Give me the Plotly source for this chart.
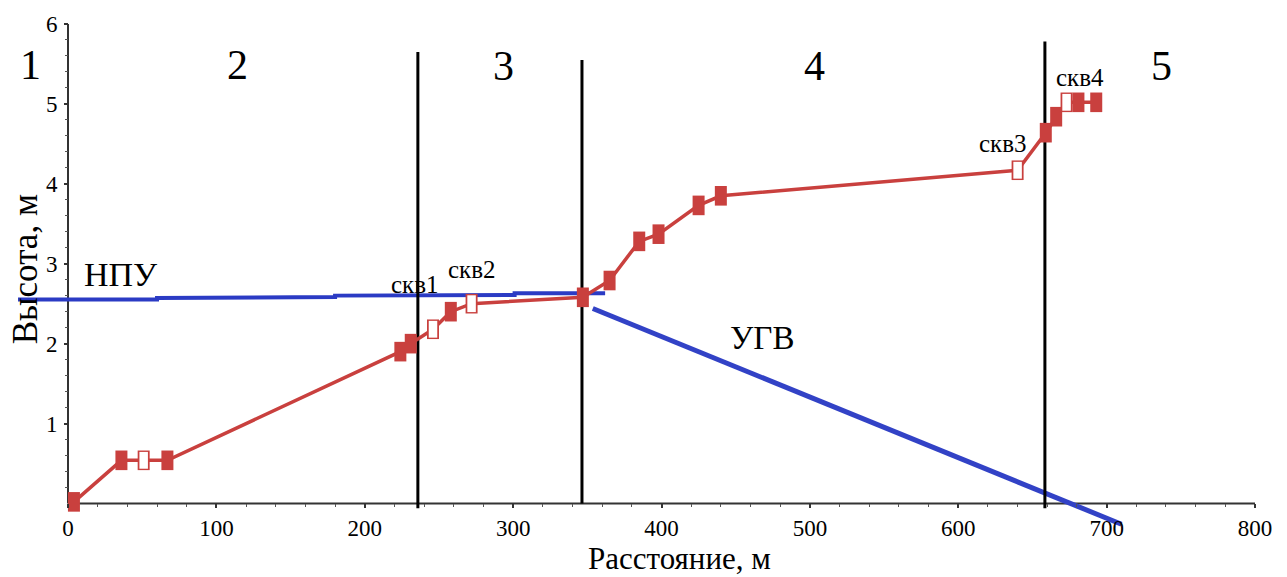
import plotly.graph_objects as go

# ---------------- data ----------------
# ground profile (distance m, height m); open = observation well
profile_x = [4, 36, 51, 67, 224, 231, 246, 258, 272, 347, 365, 385, 398, 425, 440, 640, 659, 666, 673, 681, 693]
profile_y = [0.02, 0.54, 0.54, 0.54, 1.90, 2.00, 2.18, 2.40, 2.50, 2.58, 2.79, 3.28, 3.37, 3.73, 3.85, 4.17, 4.64, 4.84, 5.02, 5.02, 5.02]
profile_open = [0, 0, 1, 0, 0, 0, 1, 0, 1, 0, 0, 0, 0, 0, 0, 1, 0, 0, 1, 0, 0]

# normal water level (НПУ)
npu_x = [-33.7, 60, 60, 180, 180, 301, 301, 362]
npu_y = [2.552, 2.552, 2.571, 2.583, 2.601, 2.608, 2.632, 2.632]

# groundwater level (УГВ)
ugv_x = [353.7, 710]
ugv_y = [2.44, -0.26]

# section boundaries
bound_x = [235.8, 346.4, 658.4]
bound_top = [5.65, 5.55, 5.78]
bound_bot = [-0.06, 0.0, -0.06]

# section numbers
sec_labels = ["1", "2", "3", "4", "5"]
sec_x = [-25.6, 113.9, 293.2, 503.4, 737.2]
sec_y = [5.49, 5.49, 5.48, 5.48, 5.48]

# well labels
well_labels = ["скв1", "скв2", "скв3", "скв4"]
well_x = [233.8, 272.5, 630.0, 682.0]
well_y = [2.74, 2.93, 4.50, 5.33]

x_ticks = [0, 100, 200, 300, 400, 500, 600, 700, 800]
y_ticks = [1, 2, 3, 4, 5, 6]

# ---------------- figure ----------------
FONT = "Liberation Serif, Times New Roman, serif"
RED = "#c9403e"
BLUE = "#2b3bc4"

fig = go.Figure()

fig.add_trace(go.Scatter(x=npu_x, y=npu_y, mode="lines",
                         line=dict(color=BLUE, width=4), hoverinfo="skip"))
fig.add_trace(go.Scatter(x=ugv_x, y=ugv_y, mode="lines",
                         line=dict(color="#3242c6", width=5), hoverinfo="skip"))

for bx, bt, bb in zip(bound_x, bound_top, bound_bot):
    fig.add_trace(go.Scatter(x=[bx, bx], y=[bb, bt], mode="lines",
                             line=dict(color="black", width=3), hoverinfo="skip"))

fig.add_trace(go.Scatter(x=profile_x, y=profile_y, mode="lines",
                         line=dict(color=RED, width=3.5), hoverinfo="skip"))
# filled rectangles (all points)
fig.add_trace(go.Scatter(x=profile_x, y=profile_y, mode="markers",
                         marker=dict(symbol="line-ns-open", size=14, color=RED,
                                     line=dict(width=12, color=RED)),
                         hoverinfo="skip"))
# white interior for wells
ox = [x for x, o in zip(profile_x, profile_open) if o]
oy = [y for y, o in zip(profile_y, profile_open) if o]
fig.add_trace(go.Scatter(x=ox, y=oy, mode="markers",
                         marker=dict(symbol="line-ns-open", size=12, color="white",
                                     line=dict(width=8.5, color="white")),
                         hoverinfo="skip"))

# axis lines
fig.add_shape(type="line", xref="x", yref="y", x0=0, x1=800, y0=0, y1=0,
              line=dict(color="#333", width=2), layer="below")
fig.add_shape(type="line", xref="x", yref="y", x0=0, x1=0, y0=0, y1=6,
              line=dict(color="#333", width=2), layer="below")

for t, x, y in zip(sec_labels, sec_x, sec_y):
    fig.add_annotation(x=x, y=y, text=t, showarrow=False,
                       font=dict(family=FONT, size=42, color="black"))
for t, x, y in zip(well_labels, well_x, well_y):
    fig.add_annotation(x=x, y=y, text=t, showarrow=False,
                       font=dict(family=FONT, size=25, color="black"))

fig.add_annotation(x=35.7, y=2.87, text="НПУ", showarrow=False,
                   font=dict(family=FONT, size=34, color="black"))
fig.add_annotation(x=468, y=2.07, text="УГВ", showarrow=False,
                   font=dict(family=FONT, size=33, color="black"))
fig.add_annotation(x=-29, y=2.93, text="Высота, м", showarrow=False, textangle=-90,
                   font=dict(family=FONT, size=35, color="black"))
fig.add_annotation(x=412, xref="x", y=-0.0573, yref="paper", yanchor="middle",
                   text="Расстояние, м", showarrow=False,
                   font=dict(family=FONT, size=31, color="black"))

minor_x = [v for v in range(20, 800, 20) if v % 100]
minor_y = [round(v * 0.2, 1) for v in range(1, 30) if v % 5]

fig.update_layout(
    width=1287, height=577,
    margin=dict(l=18, r=32, t=15, b=47),
    paper_bgcolor="white", plot_bgcolor="white",
    showlegend=False,
    xaxis=dict(range=[-33.7, 800], anchor="free", position=0.332 / 6.332,
               showgrid=False, zeroline=False, showline=False,
               tickmode="array", tickvals=x_ticks, ticks="outside", ticklen=4,
               tickwidth=1.5, tickcolor="#333", ticklabelstandoff=0,
               tickfont=dict(family=FONT, size=23, color="black"),
               minor=dict(tickmode="array", tickvals=minor_x, ticks="outside",
                          ticklen=3, tickcolor="#555", tickwidth=1.2)),
    yaxis=dict(range=[-0.332, 6], anchor="free", position=33.7 / 833.7,
               showgrid=False, zeroline=False, showline=False,
               tickmode="array", tickvals=y_ticks, ticks="outside", ticklen=4,
               tickwidth=1.5, tickcolor="#333", ticklabelstandoff=2,
               tickfont=dict(family=FONT, size=23, color="black"),
               minor=dict(tickmode="array", tickvals=minor_y, ticks="outside",
                          ticklen=3, tickcolor="#555", tickwidth=1.2)),
)

fig.write_html("out.html")
